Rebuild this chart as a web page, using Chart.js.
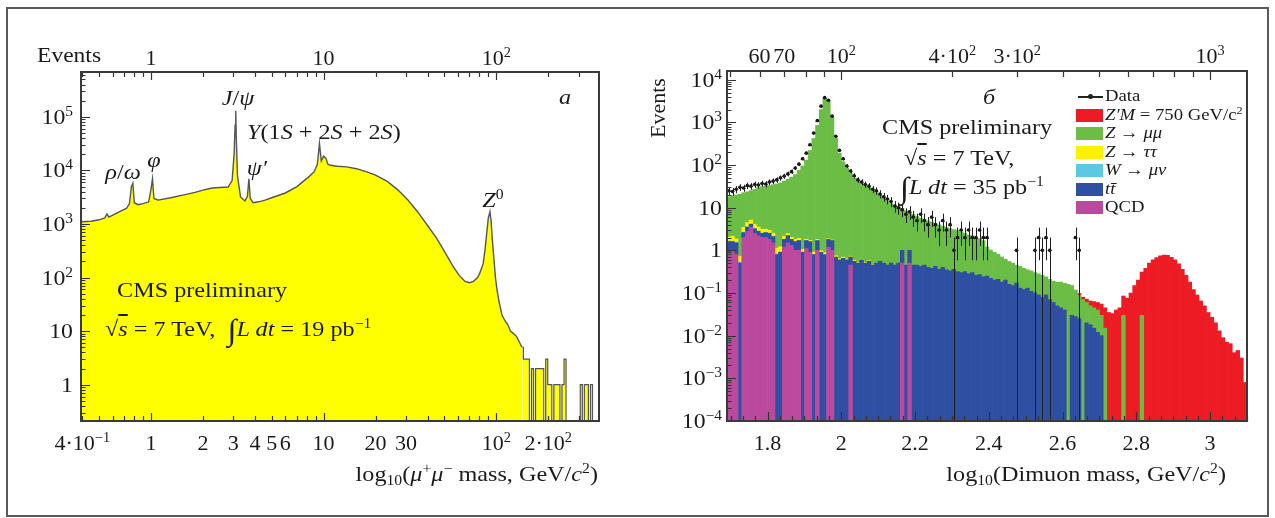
<!DOCTYPE html>
<html>
<head>
<meta charset="utf-8">
<script src="https://cdn.jsdelivr.net/npm/chart.js@4.4.1/dist/chart.umd.min.js"></script>
<style>
  html, body { margin: 0; padding: 0; background: #fff; }
  #page { position: relative; width: 1275px; height: 518px; overflow: hidden; background: #fff;
          font-family: "Liberation Serif", "Times New Roman", serif; color: #1a1a1a; }
  #frame { position: absolute; left: 6px; top: 7px; width: 1263px; height: 510px; box-sizing: border-box;
           border: 2px solid #5a5a5a; }
  canvas { position: absolute; top: 0; }
  #left { left: 0; }
  #right { left: 640px; }
  .t { position: absolute; white-space: nowrap; line-height: 1; font-size: 22px;
       transform: scaleX(1.07); transform-origin: left center; }
  .c { transform: translate(-50%, -50%) scaleX(1.1); transform-origin: center center; }
  .m { transform: translate(0, -50%) scaleX(1.1); transform-origin: left center; }
  .r { transform: translate(-100%, -50%) scaleX(1.1); transform-origin: right center; }
  .tick { position: absolute; white-space: nowrap; line-height: 1; font-size: 22px; }
  .tick.h { transform: translate(-50%, -50%); }
  .tick.v { transform: translate(-100%, -50%) scaleX(1.08); transform-origin: right center; }
  sup, sub { font-size: 0.65em; line-height: 0; }
  sup { vertical-align: 0.55em; }
  sub { vertical-align: -0.3em; }
  .int { font-size: 30px; vertical-align: -4px; }
  .legend { position: absolute; left: 1076px; top: 87px; font-size: 17px; }
  .legend .row { position: relative; height: 18.5px; line-height: 18.5px; white-space: nowrap; }
  .legend .box { position: absolute; left: 0; top: 3px; width: 27px; height: 13px; }
  .legend .txt { position: absolute; left: 29px; top: 0; transform: scaleX(1.1); transform-origin: left center; }
  .legend .dline { position: absolute; left: 2px; top: 9px; width: 25px; height: 1.5px; background: #222; }
  .legend .ddot { position: absolute; left: 12px; top: 7px; width: 5px; height: 5px; border-radius: 50%; background: #222; }
</style>
</head>
<body>
<div id="page">
  <canvas id="left" width="640" height="518"></canvas>
  <canvas id="right" width="635" height="518"></canvas>
  <div id="frame"></div>

  <!-- left panel text -->
  <div class="t" style="left:37px;top:44px">Events</div>
  <div class="t c" style="left:565px;top:97px"><i>a</i></div>
  <div class="t c" style="left:238px;top:98px"><i>J</i>/<i>ψ</i></div>
  <div class="t m" style="left:247px;top:132px"><i>Y</i>(1<i>S</i> + 2<i>S</i> + 2<i>S</i>)</div>
  <div class="t c" style="left:257px;top:168px"><i>ψ′</i></div>
  <div class="t c" style="left:123px;top:172px"><i>ρ</i>/<i>ω</i></div>
  <div class="t c" style="left:154px;top:160px"><i>φ</i></div>
  <div class="t c" style="left:493px;top:200px"><i>Z</i><sup>0</sup></div>
  <div class="t m" style="left:117px;top:290px">CMS preliminary</div>
  <div class="t m" style="left:105px;top:330px">√<i style="text-decoration:overline">s</i> = 7 TeV, &nbsp;<span class="int">∫</span><i>L dt</i> = 19 pb<sup>−1</sup></div>
  <div class="t r" style="left:598px;top:474px">log<sub>10</sub>(<i>μ</i><sup>+</sup><i>μ</i><sup>−</sup> mass, GeV/<i>c</i><sup>2</sup>)</div>

  <!-- right panel text -->
  <div class="t" style="left:658px;top:108px;transform:translate(-50%,-50%) rotate(-90deg);transform-origin:center center">Events</div>
  <div class="t c" style="left:989px;top:97px"><i>б</i></div>
  <div class="t m" style="left:882px;top:127px">CMS preliminary</div>
  <div class="t m" style="left:904px;top:158px">√<i style="text-decoration:overline">s</i> = 7 TeV,</div>
  <div class="t m" style="left:900px;top:188px"><span class="int">∫</span><i>L dt</i> = 35 pb<sup>−1</sup></div>
  <div class="t r" style="left:1226px;top:474px">log<sub>10</sub>(Dimuon mass, GeV/<i>c</i><sup>2</sup>)</div>
  <div class="legend" id="legend"></div>
</div>

<script>
// ---------- left panel: dimuon mass spectrum ----------
var lowMass = [0.393, 0.45, 0.5, 0.54, 0.556, 0.57, 0.62, 0.68, 0.72, 0.75,
  0.77, 0.785, 0.80, 0.84, 0.9, 0.97, 1.0, 1.02, 1.04, 1.1,
  1.3, 1.55, 1.8, 2.0, 2.26, 2.5, 2.8, 2.95, 3.03, 3.07,
  3.097, 3.12, 3.17, 3.3, 3.5, 3.62, 3.69, 3.76, 3.9, 4.2,
  4.58, 5.0, 6.0, 7.0, 7.5, 8.2, 8.8, 9.2, 9.46, 9.7,
  10.0, 10.3, 10.6, 11.0, 12.0, 13.6, 15.5, 17.8, 20.0, 23.5,
  27, 30.8, 35, 40.4, 45, 50.4, 56, 61, 66, 70,
  73.8, 78, 80.2, 84, 86, 88, 90, 92, 93.5, 95,
  97, 99, 101, 104, 108, 112, 117, 121, 126, 131,
  137, 141];
var lowCounts = [1100, 1130, 1200, 1300, 1550, 1350, 1550, 1800, 1950, 2400,
  5000, 5800, 2500, 2300, 2400, 2600, 4500, 7000, 3000, 2800,
  3100, 3500, 3900, 4300, 4700, 4800, 4900, 6500, 20000, 70000,
  130000, 40000, 8000, 3200, 2700, 3300, 7000, 3000, 2500, 2600,
  2800, 3100, 3800, 5000, 6000, 7600, 9400, 13000, 32000, 15000,
  18500, 17000, 13000, 12500, 12000, 11700, 10800, 9400, 8200, 6200,
  4300, 2800, 1700, 900, 550, 300, 165, 110, 85, 80,
  85, 100, 120, 180, 320, 650, 1300, 1700, 1100, 500,
  220, 100, 60, 35, 20, 16, 13, 10, 9, 8,
  6, 5];
// high-mass tail, a few events per bin
var tailMass = [141.7, 145.6, 149.6, 153.7, 157.9, 162.3, 166.7, 171.3, 176.0, 180.9,
  185.9, 191.0, 196.2, 201.6, 207.1, 212.8, 218.7, 224.7, 230.9, 237.2,
  243.8, 250.5, 257.3, 264.4, 271.7, 279.2, 286.8, 294.7, 302.8, 311.2,
  319.7, 328.5, 337.5, 346.8, 356.4, 366.2, 376.2, 386.6];
var tailCounts = [5, 3, 3, 3, 0, 2, 0, 2, 2, 2,
  2, 0, 3, 1, 1, 0, 1, 1, 1, 0,
  1, 3, 0, 0, 0, 0, 0, 0, 0, 1,
  0, 1, 1, 0, 1, 0, 0, 0];

var lowXTicks = [0.4, 1, 2, 3, 4, 5, 6, 10, 20, 30, 100, 200];
var lowXText = ["4·10<sup>−1</sup>", "1", "2", "3", "4", "5", "6", "10", "20", "30", "10<sup>2</sup>", "2·10<sup>2</sup>"];
var lowTopTicks = [1, 10, 100];
var lowTopText = ["1", "10", "10<sup>2</sup>"];
var lowYTicks = [1, 10, 100, 1000, 10000, 100000];
var lowYText = ["1", "10", "10<sup>2</sup>", "10<sup>3</sup>", "10<sup>4</sup>", "10<sup>5</sup>"];

// ---------- right panel: stacked dimuon backgrounds ----------
var binLo = 1.69, binWidth = 0.01;
var qcd = [
  0.9, 1.0, 0.8, 0, 2.0, 2.8, 3.5, 2.5, 2.2, 2.0,
  2.0, 1.8, 1.5, 0, 0, 1.2, 1.5, 1.3, 1.0, 1.0,
  0, 1.1, 0.9, 0, 1.0, 0, 0, 1.2, 1.0, 0,
  0, 0, 0, 0.45, 0, 0, 0, 0, 0, 0,
  0, 0, 0, 0, 0, 0, 0, 0.5, 0, 0.5,
  0, 0, 0, 0, 0, 0, 0, 0, 0, 0,
  0, 0, 0, 0, 0, 0, 0, 0, 0, 0,
  0, 0, 0, 0, 0, 0, 0, 0, 0, 0,
  0, 0, 0, 0, 0, 0, 0, 0, 0, 0,
  0, 0, 0, 0, 0, 0, 0, 0, 0, 0,
  0, 0, 0, 0, 0, 0, 0, 0, 0, 0,
  0, 0, 0, 0, 0, 0, 0, 0, 0, 0,
  0, 0, 0, 0, 0, 0, 0, 0, 0, 0,
  0, 0, 0, 0, 0, 0, 0, 0, 0, 0,
  0];
var ttbar = [
  0.7, 0.6, 0.7, 0.5, 0.6, 0.7, 0.6, 0.7, 0.6, 0.5,
  0.6, 0.7, 0.6, 0.8, 0.9, 0.6, 0.7, 0.5, 0.6, 0.7,
  0.9, 0.6, 0.7, 0.8, 0.7, 0.9, 0.8, 0.6, 0.7, 0.7,
  0.6, 0.65, 0.6, 0.25, 0.55, 0.5, 0.6, 0.5, 0.55, 0.45,
  0.5, 0.55, 0.5, 0.45, 0.5, 0.45, 0.5, 0.5, 0.45, 0.5,
  0.45, 0.45, 0.42, 0.45, 0.4, 0.38, 0.42, 0.36, 0.4, 0.35,
  0.33, 0.36, 0.32, 0.3, 0.32, 0.28, 0.3, 0.26, 0.27, 0.24,
  0.25, 0.22, 0.2, 0.21, 0.18, 0.2, 0.16, 0.15, 0.17, 0.13,
  0.12, 0.13, 0.11, 0.1, 0.09, 0.08, 0.09, 0.07, 0.06, 0.05,
  0.045, 0.04, 0, 0.03, 0.028, 0.025, 0, 0.02, 0.018, 0.015,
  0.012, 0.01, 0, 0, 0, 0, 0, 0, 0, 0,
  0, 0, 0, 0, 0, 0, 0, 0, 0, 0,
  0, 0, 0, 0, 0, 0, 0, 0, 0, 0,
  0, 0, 0, 0, 0, 0, 0, 0, 0, 0,
  0];
var wmunu = [
  0.05, 0.04, 0.05, 0.03, 0.06, 0.05, 0.04, 0.05, 0.03, 0.04,
  0.03, 0.04, 0.02, 0.03, 0.02, 0.03, 0.02, 0.02, 0.02, 0.01,
  0.01, 0.01, 0.01, 0.01, 0, 0, 0, 0, 0, 0,
  0, 0, 0, 0, 0, 0, 0, 0, 0, 0,
  0, 0, 0, 0, 0, 0, 0, 0, 0, 0,
  0, 0, 0, 0, 0, 0, 0, 0, 0, 0,
  0, 0, 0, 0, 0, 0, 0, 0, 0, 0,
  0, 0, 0, 0, 0, 0, 0, 0, 0, 0,
  0, 0, 0, 0, 0, 0, 0, 0, 0, 0,
  0, 0, 0, 0, 0, 0, 0, 0, 0, 0,
  0, 0, 0, 0, 0, 0, 0, 0, 0, 0,
  0, 0, 0, 0, 0, 0, 0, 0, 0, 0,
  0, 0, 0, 0, 0, 0, 0, 0, 0, 0,
  0, 0, 0, 0, 0, 0, 0, 0, 0, 0,
  0];
var ztautau = [
  0.4, 0.5, 0.3, 0.2, 0.8, 0.9, 1.0, 0.8, 0.7, 0.6,
  0.5, 0.4, 0.4, 0.3, 0.3, 0.3, 0.25, 0.2, 0.2, 0.2,
  0.15, 0.12, 0.1, 0.1, 0.1, 0.08, 0.08, 0.06, 0.05, 0.05,
  0.04, 0.04, 0.03, 0.03, 0.03, 0.02, 0.02, 0.02, 0.02, 0.01,
  0, 0, 0, 0, 0, 0, 0, 0, 0, 0,
  0, 0, 0, 0, 0, 0, 0, 0, 0, 0,
  0, 0, 0, 0, 0, 0, 0, 0, 0, 0,
  0, 0, 0, 0, 0, 0, 0, 0, 0, 0,
  0, 0, 0, 0, 0, 0, 0, 0, 0, 0,
  0, 0, 0, 0, 0, 0, 0, 0, 0, 0,
  0, 0, 0, 0, 0, 0, 0, 0, 0, 0,
  0, 0, 0, 0, 0, 0, 0, 0, 0, 0,
  0, 0, 0, 0, 0, 0, 0, 0, 0, 0,
  0, 0, 0, 0, 0, 0, 0, 0, 0, 0,
  0];
var zmumu = [
  16, 17, 18, 20, 19, 19, 20, 23, 26, 28,
  29, 30, 32, 35, 37, 40, 44, 50, 58, 73,
  94, 128, 218, 419, 848, 2000, 3600, 3200, 1300, 419,
  189, 119, 84, 63, 49, 41, 36, 32, 29, 25,
  22, 19, 17, 14, 12, 11, 10, 8.5, 8, 6.8,
  6.5, 5.8, 5.3, 4.9, 4.5, 4.2, 3.9, 3.6, 3.3, 3.1,
  2.9, 2.7, 2.6, 2.4, 2.2, 2.0, 1.9, 1.7, 1.6, 1.45,
  0.95, 0.8, 0.7, 0.6, 0.52, 0.42, 0.39, 0.35, 0.28, 0.29,
  0.26, 0.22, 0.22, 0.2, 0.19, 0.18, 0.15, 0.14, 0.13, 0.13,
  0.135, 0.13, 0.16, 0.12, 0.09, 0.065, 0.07, 0.04, 0.032, 0.03,
  0.028, 0.02, 0.015, 0, 0, 0, 0, 0.03, 0, 0,
  0, 0, 0.03, 0, 0, 0, 0, 0, 0, 0,
  0, 0, 0, 0, 0, 0, 0, 0, 0, 0,
  0, 0, 0, 0, 0, 0, 0, 0, 0, 0,
  0];
var zprime = [
  0, 0, 0, 0, 0, 0, 0, 0, 0, 0,
  0, 0, 0, 0, 0, 0, 0, 0, 0, 0,
  0, 0, 0, 0, 0, 0, 0, 0, 0, 0,
  0, 0, 0, 0, 0, 0, 0, 0, 0, 0,
  0, 0, 0, 0, 0, 0, 0, 0, 0, 0,
  0, 0, 0, 0, 0, 0, 0, 0, 0, 0,
  0, 0, 0, 0, 0, 0, 0, 0, 0, 0,
  0, 0, 0, 0, 0, 0, 0, 0, 0, 0,
  0, 0, 0, 0, 0, 0, 0, 0, 0, 0,
  0, 0, 0, 0, 0, 0.008, 0.01, 0.012, 0.015, 0.018,
  0.02, 0.025, 0.03, 0.035, 0.033, 0.04, 0.045, 0.055, 0.075, 0.1,
  0.15, 0.2, 0.28, 0.38, 0.5, 0.6, 0.68, 0.74, 0.78, 0.76,
  0.69, 0.6, 0.48, 0.36, 0.26, 0.18, 0.12, 0.09, 0.065, 0.05,
  0.035, 0.027, 0.02, 0.013, 0.009, 0.007, 0.0065, 0.004, 0.0045, 0.003,
  0.0008];
var observed = [
  25, 24, 27, 30, 29, 33, 32, 35, 34, 37,
  36, 40, 42, 45, 50, 55, 62, 70, 85, 105,
  140, 190, 300, 560, 1100, 2400, 3800, 3300, 1400, 470,
  220, 140, 95, 72, 56, 45, 40, 35, 32, 27,
  25, 21, 18, 16, 14, 11, 10, 9, 7, 8,
  6, 5, 7, 5, 4, 6, 4, 3, 5, 3,
  4, 1, 2, 3, 2, 3, 2, 2, 3, 2,
  2, 0, 0, 0, 0, 0, 0, 0, 1, 0,
  0, 0, 0, 1, 2, 1, 2, 1, 0, 0,
  0, 0, 0, 0, 2, 1, 0, 0, 0, 0,
  0, 0, 0, 0, 0, 0, 0, 0, 0, 0,
  0, 0, 0, 0, 0, 0, 0, 0, 0, 0,
  0, 0, 0, 0, 0, 0, 0, 0, 0, 0,
  0, 0, 0, 0, 0, 0, 0, 0, 0, 0,
  0];

var dimuonTicks = [1.8, 2, 2.2, 2.4, 2.6, 2.8, 3];
var dimuonText = ["1.8", "2", "2.2", "2.4", "2.6", "2.8", "3"];
var massTopTicks = [60, 70, 100, 200, 300, 1000];
var massTopText = ["60", "70", "10<sup>2</sup>", "4·10<sup>2</sup>", "3·10<sup>2</sup>", "10<sup>3</sup>"];
var highYTicks = [1e-4, 1e-3, 1e-2, 1e-1, 1, 10, 100, 1000, 10000];
var highYText = ["10<sup>−4</sup>", "10<sup>−3</sup>", "10<sup>−2</sup>", "10<sup>−1</sup>", "1", "10",
  "10<sup>2</sup>", "10<sup>3</sup>", "10<sup>4</sup>"];

// stack from bottom to top
var stackNames = ["QCD", "tt̄", "W → μν", "Z → ττ", "Z → μμ", "Z′M = 750 GeV/c²"];
var stackData = [qcd, ttbar, wmunu, ztautau, zmumu, zprime];
var stackColors = ["#bb4a9e", "#2f4fa3", "#5cc8e2", "#fff200", "#6bbd45", "#ed1c24"];
var legendHtml = ["QCD", "<i>tt̄</i>", "<i>W</i> → <i>μν</i>", "<i>Z</i> → <i>ττ</i>",
  "<i>Z</i> → <i>μμ</i>", "<i>Z′M</i> = 750 GeV/c<sup>2</sup>"];

var binCenters = observed.map(function (_, i) { return +(binLo + binWidth * (i + 0.5)).toFixed(3); });

// decade / sub-decade positions for the inward tick marks
function logMarks(lo, hi, major) {
  var out = [];
  for (var k = -5; k <= 6; k++) {
    for (var m = 1; m <= 9; m++) {
      var v = m * Math.pow(10, k);
      if (v < lo || v > hi) continue;
      if ((m === 1) === major) out.push(v);
    }
  }
  return out;
}

function framePlugin(marks, extra) {
  return {
    id: "frameTicks",
    afterDatasetsDraw: function (chart) {
      var ctx = chart.ctx, a = chart.chartArea;
      if (extra) extra(chart);
      ctx.save();
      ctx.strokeStyle = "#333";
      ctx.lineWidth = 1.2;
      ctx.beginPath();
      marks.forEach(function (mk) {
        var s = chart.scales[mk.scale];
        mk.values.forEach(function (v) {
          var p = s.getPixelForValue(v);
          if (mk.side === "left") {
            if (p < a.top || p > a.bottom) return;
            p = Math.round(p) + 0.5;
            ctx.moveTo(a.left, p); ctx.lineTo(a.left + mk.len, p);
          } else {
            if (p < a.left || p > a.right) return;
            p = Math.round(p) + 0.5;
            if (mk.side === "bottom") { ctx.moveTo(p, a.bottom); ctx.lineTo(p, a.bottom - mk.len); }
            else { ctx.moveTo(p, a.top); ctx.lineTo(p, a.top + mk.len); }
          }
        });
      });
      ctx.stroke();
      ctx.lineWidth = 2;
      ctx.strokeStyle = "#3a3a3a";
      ctx.strokeRect(a.left, a.top, a.right - a.left, a.bottom - a.top);
      ctx.restore();
    }
  };
}

// tick labels as page text, placed with the chart's own scales
function placeTickLabels(chart, offsetX, scaleId, side, values, text, gap) {
  var page = document.getElementById("page");
  var s = chart.scales[scaleId], a = chart.chartArea;
  values.forEach(function (v, i) {
    var d = document.createElement("div");
    var p = s.getPixelForValue(v);
    d.innerHTML = text[i];
    if (side === "left") {
      d.className = "tick v";
      d.style.left = (offsetX + a.left - gap) + "px";
      d.style.top = p + "px";
    } else {
      d.className = "tick h";
      d.style.left = (offsetX + p) + "px";
      d.style.top = (side === "bottom" ? a.bottom + gap : a.top - gap) + "px";
    }
    page.appendChild(d);
  });
}

var hiddenAxis = { grid: { display: false, drawTicks: false }, border: { display: false }, ticks: { display: false } };
function axis(extra) { return Object.assign({}, hiddenAxis, extra); }

// ----- left chart -----
var lowYMin = 0.21, lowYMax = 690000, lowXMin = 0.393, lowXMax = 394;
var zeroFloor = 0.05; // empty bins drawn below the axis floor

var leftMarks = [
  { scale: "y", side: "left", len: 9, values: logMarks(lowYMin, lowYMax, true) },
  { scale: "y", side: "left", len: 4.5, values: logMarks(lowYMin, lowYMax, false) },
  { scale: "x", side: "bottom", len: 8, values: logMarks(lowXMin, lowXMax, true) },
  { scale: "x", side: "bottom", len: 5, values: logMarks(lowXMin, lowXMax, false) },
  { scale: "x2", side: "top", len: 8, values: logMarks(lowXMin, lowXMax, true) },
  { scale: "x2", side: "top", len: 5, values: logMarks(lowXMin, lowXMax, false) }
];

var leftChart = new Chart(document.getElementById("left"), {
  type: "line",
  data: {
    datasets: [
      {
        data: lowMass.map(function (m, i) { return { x: m, y: lowCounts[i] }; }),
        borderColor: "#555", borderWidth: 1.4, backgroundColor: "#ffff00",
        fill: "start", pointRadius: 0, tension: 0
      },
      {
        data: tailMass.map(function (m, i) { return { x: m, y: tailCounts[i] || zeroFloor }; }),
        borderColor: "#555", borderWidth: 1.2, backgroundColor: "#ffff00",
        fill: "start", pointRadius: 0, stepped: "middle"
      }
    ]
  },
  options: {
    responsive: false, animation: false, devicePixelRatio: 1,
    layout: { padding: { left: 0, right: 41, top: 0, bottom: 0 } },
    plugins: { legend: { display: false }, tooltip: { enabled: false } },
    scales: {
      x: axis({ type: "logarithmic", position: "bottom", min: lowXMin, max: lowXMax,
        afterFit: function (s) { s.height = 97; } }),
      x2: axis({ type: "logarithmic", position: "top", min: lowXMin, max: lowXMax,
        afterFit: function (s) { s.height = 72; } }),
      y: axis({ type: "logarithmic", min: lowYMin, max: lowYMax,
        afterFit: function (s) { s.width = 81; } })
    }
  },
  plugins: [framePlugin(leftMarks)]
});

placeTickLabels(leftChart, 0, "x", "bottom", lowXTicks, lowXText, 22);
placeTickLabels(leftChart, 0, "x2", "top", lowTopTicks, lowTopText, 14);
placeTickLabels(leftChart, 0, "y", "left", lowYTicks, lowYText, 8);

// ----- right chart -----
var highYMin = 1e-4, highYMax = 16000, highXMin = 1.69, highXMax = 3.1;

var bottomMajor = [], bottomMinor = [];
for (var j = 0; j <= 42; j++) {
  (j % 6 === 3 ? bottomMajor : bottomMinor).push(1.7 + j / 30);
}
var topMajor = [100, 1000].map(Math.log10);
var topMinor = [50, 60, 70, 80, 90, 200, 300, 400, 500, 600, 700, 800, 900].map(Math.log10);

var rightMarks = [
  { scale: "y", side: "left", len: 9, values: logMarks(highYMin, highYMax, true) },
  { scale: "y", side: "left", len: 4.5, values: logMarks(highYMin, highYMax, false) },
  { scale: "x", side: "bottom", len: 9, values: bottomMajor },
  { scale: "x", side: "bottom", len: 5, values: bottomMinor },
  { scale: "x2", side: "top", len: 9, values: topMajor },
  { scale: "x2", side: "top", len: 6, values: topMinor }
];

function drawErrors(chart) {
  var xs = chart.scales.x, ys = chart.scales.y, ctx = chart.ctx, a = chart.chartArea;
  ctx.save();
  ctx.beginPath();
  ctx.rect(a.left, a.top, a.right - a.left, a.bottom - a.top);
  ctx.clip();
  ctx.strokeStyle = "#1e1e1e";
  ctx.lineWidth = 1;
  ctx.beginPath();
  observed.forEach(function (n, i) {
    if (!n) return;
    var x = Math.round(xs.getPixelForValue(binCenters[i])) + 0.5;
    var e = Math.sqrt(n);
    var yTop = ys.getPixelForValue(n + e);
    var yBot = n - e > 0 ? ys.getPixelForValue(n - e) : a.bottom;
    ctx.moveTo(x, yTop); ctx.lineTo(x, yBot);
    var yc = Math.round(ys.getPixelForValue(n)) + 0.5;
    ctx.moveTo(xs.getPixelForValue(binCenters[i] - binWidth / 2), yc);
    ctx.lineTo(xs.getPixelForValue(binCenters[i] + binWidth / 2), yc);
  });
  ctx.stroke();
  ctx.restore();
}

var rightDatasets = stackData.map(function (arr, k) {
  return {
    type: "bar", label: stackNames[k],
    data: arr.map(function (v) { return v > 0 ? v : null; }),
    backgroundColor: stackColors[k], borderWidth: 0,
    barPercentage: 1, categoryPercentage: 1, stack: "mc"
  };
});
rightDatasets.push({
  type: "line", label: "Data", stack: "obs", order: -1,
  data: observed.map(function (v) { return v > 0 ? v : null; }),
  showLine: false, pointRadius: 1.8, pointBorderWidth: 0,
  pointBackgroundColor: "#111", borderColor: "#111"
});

var rightChart = new Chart(document.getElementById("right"), {
  type: "bar",
  data: { labels: binCenters, datasets: rightDatasets },
  options: {
    responsive: false, animation: false, devicePixelRatio: 1,
    layout: { padding: { left: 0, right: 28, top: 0, bottom: 0 } },
    plugins: { legend: { display: false }, tooltip: { enabled: false } },
    scales: {
      x: axis({ type: "linear", position: "bottom", min: highXMin, max: highXMax, offset: false, stacked: true,
        grid: { display: false, drawTicks: false, offset: false },
        afterFit: function (s) { s.height = 97; } }),
      x2: axis({ type: "linear", position: "top", min: highXMin, max: highXMax, offset: false,
        afterFit: function (s) { s.height = 71; } }),
      y: axis({ type: "logarithmic", min: highYMin, max: highYMax, stacked: true,
        afterFit: function (s) { s.width = 87; } })
    }
  },
  plugins: [framePlugin(rightMarks, drawErrors)]
});

placeTickLabels(rightChart, 640, "x", "bottom", dimuonTicks, dimuonText, 22);
placeTickLabels(rightChart, 640, "x2", "top", massTopTicks.map(Math.log10), massTopText, 15);
placeTickLabels(rightChart, 640, "y", "left", highYTicks, highYText, 5);

// legend: Data first, then the stack from top to bottom
(function () {
  var el = document.getElementById("legend");
  var html = '<div class="row"><span class="dline"></span><span class="ddot"></span><span class="txt">Data</span></div>';
  for (var k = stackNames.length - 1; k >= 0; k--) {
    html += '<div class="row"><span class="box" style="background:' + stackColors[k] + '"></span>' +
      '<span class="txt">' + legendHtml[k] + '</span></div>';
  }
  el.innerHTML = html;
})();
</script>
</body>
</html>
